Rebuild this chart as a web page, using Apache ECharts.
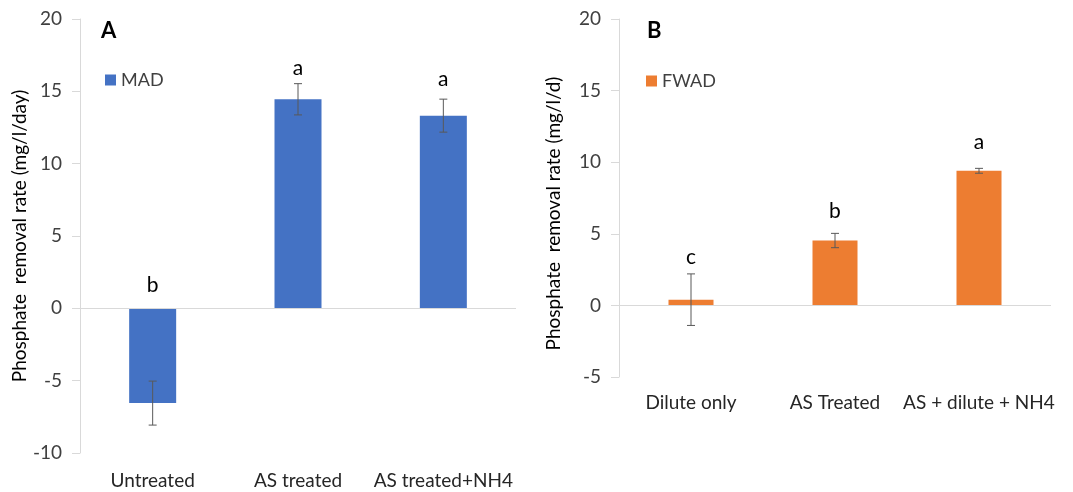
<!DOCTYPE html>
<html><head><meta charset="utf-8">
<script src="https://cdn.jsdelivr.net/npm/echarts@6/dist/echarts.min.js"></script>
<style>html,body{margin:0;padding:0;background:#fff}#c{width:1073px;height:492px}</style>
</head><body><div id="c"></div>
<script>
// ---- data ----
const categoriesA = ['Untreated', 'AS treated', 'AS treated+NH4'];
const valuesA = [-6.55, 14.45, 13.32];
const errorsA = [1.52, 1.08, 1.14];
const lettersA = ['b', 'a', 'a'];
const yTicksA = [-10, -5, 0, 5, 10, 15, 20];

const categoriesB = ['Dilute only', 'AS Treated', 'AS + dilute + NH4'];
const valuesB = [0.4, 4.53, 9.4];
const errorsB = [1.8, 0.5, 0.17];
const lettersB = ['c', 'b', 'a'];
const yTicksB = [-5, 0, 5, 10, 15, 20];

// ---- layout / style ----
const FONT = 'Lato';
const letterOffsetA = [23, 15, 20];
const letterOffsetB = [17, 22, 26];

function errData(vals, errs) {
  return vals.map((v, i) => [i, v - errs[i], v + errs[i]]);
}
function letterData(vals, errs) {
  return vals.map((v, i) => [i, Math.max(v + errs[i], 0)]);
}
function errRender(params, api) {
  const i = api.value(0);
  const lo = api.coord([i, api.value(1)]);
  const hi = api.coord([i, api.value(2)]);
  const cw = 4;
  const st = { stroke: '#595959', lineWidth: 1 };
  return {
    type: 'group',
    children: [
      { type: 'line', shape: { x1: lo[0], y1: lo[1], x2: hi[0], y2: hi[1] }, style: st },
      { type: 'line', shape: { x1: lo[0] - cw, y1: lo[1], x2: lo[0] + cw, y2: lo[1] }, style: st },
      { type: 'line', shape: { x1: hi[0] - cw, y1: hi[1], x2: hi[0] + cw, y2: hi[1] }, style: st }
    ]
  };
}
function letterRender(letters, offs) {
  return function (params, api) {
    const i = api.value(0);
    const p = api.coord([i, api.value(1)]);
    return {
      type: 'text',
      style: {
        text: letters[params.dataIndex], x: p[0], y: p[1] - offs[params.dataIndex],
        align: 'center', verticalAlign: 'middle',
        font: '21px ' + FONT, fill: '#000'
      }
    };
  };
}
function yAxisCfg(ticks, gridIndex, name, gap, pad) {
  return {
    type: 'value', gridIndex: gridIndex,
    min: ticks[0], max: ticks[ticks.length - 1], interval: 5,
    name: name, nameLocation: 'middle', nameGap: gap,
    nameTextStyle: { fontFamily: FONT, fontSize: 19, color: '#000', padding: pad },
    axisLine: { show: true, lineStyle: { color: '#d9d9d9', width: 1 } },
    axisTick: { show: true, length: 8, lineStyle: { color: '#d9d9d9' } },
    axisLabel: { fontFamily: FONT, fontSize: 19, color: '#404040', margin: 18 },
    splitLine: { show: false }
  };
}
function xAxisCfg(cats, gridIndex, margin) {
  return {
    type: 'category', gridIndex: gridIndex, data: cats, position: 'bottom',
    axisLine: { show: false }, axisTick: { show: false },
    axisLabel: { fontFamily: FONT, fontSize: 19, color: '#262626', margin: margin, interval: 0 }
  };
}
const zeroLine = {
  silent: true, symbol: 'none', label: { show: false },
  lineStyle: { color: '#d9d9d9', type: 'solid', width: 1 },
  data: [{ yAxis: 0 }]
};

const chart = echarts.init(document.getElementById('c'), null, { renderer: 'canvas' });
chart.setOption({
  animation: false,
  backgroundColor: '#fff',
  title: [
    { text: 'A', left: 101, top: 20, padding: 0, textStyle: { fontFamily: FONT, fontSize: 22, fontWeight: 'bold', color: '#000' } },
    { text: 'B', left: 647, top: 20, padding: 0, textStyle: { fontFamily: FONT, fontSize: 22, fontWeight: 'bold', color: '#000' } }
  ],
  legend: [
    { data: ['MAD'], left: 105, top: 71, padding: 0, icon: 'rect', itemWidth: 11, itemHeight: 11,
      textStyle: { fontFamily: FONT, fontSize: 18, color: '#404040' } },
    { data: ['FWAD'], left: 646, top: 72, padding: 0, icon: 'rect', itemWidth: 11, itemHeight: 11,
      textStyle: { fontFamily: FONT, fontSize: 18, color: '#404040' } }
  ],
  grid: [
    { left: 80, top: 19, width: 436, height: 434 },
    { left: 619, top: 19, width: 432, height: 358 }
  ],
  xAxis: [xAxisCfg(categoriesA, 0, 18), xAxisCfg(categoriesB, 1, 16)],
  yAxis: [
    yAxisCfg(yTicksA, 0, 'Phosphate  removal rate (mg/l/day)', 50, 0),
    yAxisCfg(yTicksB, 1, 'Phosphate  removal rate (mg/l/d)', 56, [0, 31, 0, 0])
  ],
  series: [
    { name: 'MAD', type: 'bar', xAxisIndex: 0, yAxisIndex: 0, data: valuesA, barWidth: 47,
      itemStyle: { color: '#4472C4' }, markLine: zeroLine, z: 2 },
    { name: 'MADerr', type: 'custom', xAxisIndex: 0, yAxisIndex: 0, data: errData(valuesA, errorsA),
      renderItem: errRender, z: 5, silent: true },
    { name: 'MADlet', type: 'custom', xAxisIndex: 0, yAxisIndex: 0, data: letterData(valuesA, errorsA),
      renderItem: letterRender(lettersA, letterOffsetA), z: 5, silent: true },
    { name: 'FWAD', type: 'bar', xAxisIndex: 1, yAxisIndex: 1, data: valuesB, barWidth: 45,
      itemStyle: { color: '#ED7D31' }, markLine: zeroLine, z: 2 },
    { name: 'FWADerr', type: 'custom', xAxisIndex: 1, yAxisIndex: 1, data: errData(valuesB, errorsB),
      renderItem: errRender, z: 5, silent: true },
    { name: 'FWADlet', type: 'custom', xAxisIndex: 1, yAxisIndex: 1, data: letterData(valuesB, errorsB),
      renderItem: letterRender(lettersB, letterOffsetB), z: 5, silent: true }
  ]
});
</script>
</body></html>
